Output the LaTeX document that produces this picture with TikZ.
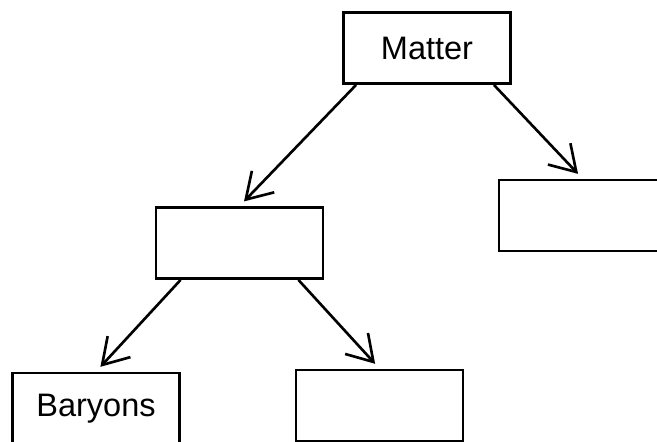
\documentclass[tikz,border=0pt]{standalone}
\usepackage{fontspec}
\setmainfont{Liberation Sans}
\usetikzlibrary{positioning}
\usetikzlibrary{calc}
\usetikzlibrary{arrows.meta}

\begin{document}
\begin{tikzpicture}[box/.style={draw,line width=1.6pt,minimum width=3.34cm,minimum height=1.42cm
            ,font=\fontsize{18.5}{22}\selectfont}
            ]
  \useasboundingbox (0,0) rectangle (13.14,8.84);
  \node[box] (matter)  at (8.54,7.88) {Matter};
  \node[box] (mid)     at (4.79,3.98) {};
  \node[box] (side)    at (11.65,4.53) {};
  \node[box] (baryons) at (1.92,0.67) {Baryons};
  \node[box] (low)     at (7.59,0.73) {};
  \path[-{Straight Barb[length=0.5cm,width=0.62cm,line width=1.5pt]},line width=1.5pt,shorten >=0.13cm]
    ([xshift=0.28cm]matter.south west) edge (mid.north)
    ([xshift=-0.36cm]matter.south east) edge (side.north)
    ([xshift=0.52cm]mid.south west) edge (baryons.north)
    ([xshift=-0.52cm]mid.south east) edge (low.north)
    ;
\end{tikzpicture}
\end{document}
